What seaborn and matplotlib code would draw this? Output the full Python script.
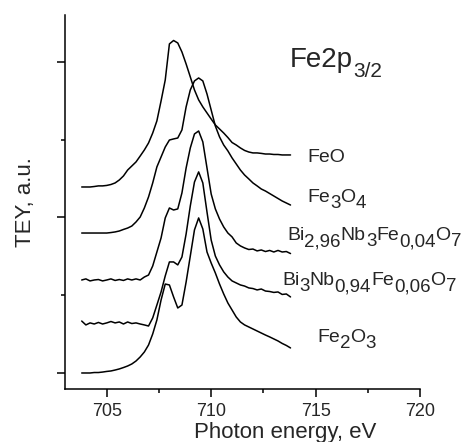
import numpy as np
import pandas as pd
import matplotlib
matplotlib.use("Agg")
import matplotlib.pyplot as plt
import seaborn as sns
from matplotlib.ticker import MultipleLocator, NullFormatter

# photon energy grid, eV
energy = np.round(np.arange(703.8, 713.81, 0.2), 1)

# stacked TEY spectra (a.u., already offset as in the figure)
tey_feo = [1.196, 1.196, 1.196, 1.199, 1.203, 1.203, 1.206, 1.212, 1.222, 1.241,
           1.267, 1.305, 1.331, 1.357, 1.395, 1.434, 1.479, 1.543, 1.621, 1.749,
           1.884, 2.116, 2.138, 2.122, 2.064, 1.987, 1.904, 1.820, 1.756, 1.711,
           1.672, 1.633, 1.595, 1.569, 1.543, 1.514, 1.482, 1.466, 1.447, 1.431,
           1.421, 1.415, 1.415, 1.412, 1.408, 1.408, 1.405, 1.405, 1.402, 1.402,
           1.402]
tey_fe3o4 = [0.900, 0.900, 0.900, 0.900, 0.900, 0.900, 0.900, 0.903, 0.907, 0.913,
             0.923, 0.932, 0.945, 0.971, 1.003, 1.061, 1.132, 1.222, 1.325, 1.389,
             1.453, 1.498, 1.505, 1.511, 1.563, 1.711, 1.820, 1.878, 1.897, 1.878,
             1.794, 1.691, 1.588, 1.518, 1.466, 1.428, 1.383, 1.344, 1.305, 1.273,
             1.248, 1.222, 1.203, 1.183, 1.170, 1.154, 1.138, 1.122, 1.106, 1.093,
             1.080]
tey_bi296 = [0.598, 0.605, 0.592, 0.598, 0.601, 0.592, 0.598, 0.605, 0.595, 0.601,
             0.595, 0.605, 0.598, 0.605, 0.598, 0.617, 0.630, 0.688, 0.778, 0.868,
             0.997, 1.061, 1.048, 1.055, 1.158, 1.318, 1.447, 1.537, 1.556, 1.486,
             1.318, 1.151, 1.055, 0.990, 0.939, 0.900, 0.875, 0.836, 0.817, 0.804,
             0.794, 0.797, 0.785, 0.791, 0.781, 0.788, 0.778, 0.788, 0.778, 0.781,
             0.768]
tey_bi3nb = [0.334, 0.309, 0.322, 0.315, 0.325, 0.315, 0.322, 0.331, 0.322, 0.328,
             0.315, 0.328, 0.318, 0.322, 0.315, 0.309, 0.302, 0.354, 0.437, 0.521,
             0.624, 0.714, 0.714, 0.695, 0.746, 0.894, 1.074, 1.228, 1.293, 1.222,
             1.035, 0.855, 0.752, 0.695, 0.650, 0.617, 0.592, 0.579, 0.566, 0.559,
             0.547, 0.543, 0.534, 0.540, 0.527, 0.524, 0.518, 0.521, 0.505, 0.508,
             0.489]
tey_fe2o3 = [0.000, 0.000, 0.000, 0.003, 0.003, 0.006, 0.010, 0.013, 0.019, 0.026,
             0.035, 0.045, 0.058, 0.077, 0.103, 0.135, 0.180, 0.251, 0.341, 0.469,
             0.572, 0.566, 0.489, 0.418, 0.437, 0.585, 0.752, 0.920, 0.997, 0.926,
             0.778, 0.707, 0.643, 0.572, 0.508, 0.450, 0.405, 0.360, 0.328, 0.309,
             0.296, 0.283, 0.270, 0.257, 0.244, 0.232, 0.219, 0.206, 0.190, 0.177,
             0.161]

samples = ["FeO", "Fe3O4", "Bi2.96Nb3Fe0.04O7", "Bi3Nb0.94Fe0.06O7", "Fe2O3"]
# label pieces: (text, is_subscript)
label_pieces = [
    [("FeO", False)],
    [("Fe", False), ("3", True), ("O", False), ("4", True)],
    [("Bi", False), ("2,96", True), ("Nb", False), ("3", True),
     ("Fe", False), ("0,04", True), ("O", False), ("7", True)],
    [("Bi", False), ("3", True), ("Nb", False), ("0,94", True),
     ("Fe", False), ("0,06", True), ("O", False), ("7", True)],
    [("Fe", False), ("2", True), ("O", False), ("3", True)],
]
# where each label sits (eV, a.u.)
label_x = [714.6, 714.6, 713.63, 713.39, 715.07]
label_y = [1.357, 1.100, 0.855, 0.566, 0.199]


def chem_text(ax, x, y, pieces, size, sub_size, drop):
    """Write a formula piece by piece so the subscripts keep their own size."""
    first = ax.text(x, y, pieces[0][0], fontsize=size, ha="left", va="baseline")
    prev = first
    for txt, sub in pieces[1:]:
        prev = ax.annotate(txt, xy=(1, 0), xycoords=(prev, first),
                           xytext=(0, -drop if sub else 0), textcoords="offset points",
                           fontsize=sub_size if sub else size, ha="left", va="bottom")
    return first


df = pd.concat([
    pd.DataFrame({"energy": energy, "tey": vals, "sample": name})
    for name, vals in zip(samples, [tey_feo, tey_fe3o4, tey_bi296, tey_bi3nb, tey_fe2o3])
])

sns.set_style("ticks")
plt.rcParams['font.family'] = ['Liberation Sans', 'DejaVu Sans']

fig = plt.figure(figsize=(4.69, 4.42), dpi=100)
ax = fig.add_axes([0.1386, 0.1199, 0.7569, 0.8462])

sns.lineplot(data=df, x="energy", y="tey", units="sample", estimator=None,
             color="black", linewidth=1.1, ax=ax, legend=False)

ax.set_xlim(703, 720)
ax.set_ylim(-0.103, 2.302)
ax.xaxis.set_major_locator(MultipleLocator(5))
ax.xaxis.set_minor_locator(MultipleLocator(2.5))
ax.yaxis.set_major_locator(MultipleLocator(1))
ax.yaxis.set_minor_locator(MultipleLocator(0.5))
ax.yaxis.set_major_formatter(NullFormatter())
ax.set_xlabel("")
ax.set_ylabel("")
sns.despine(ax=ax)
for side in ["left", "bottom"]:
    ax.spines[side].set_color("black")
    ax.spines[side].set_linewidth(1.1)
ax.tick_params(which="major", direction="out", length=5.8, width=1.1,
               color="black", labelsize=13, pad=4)
ax.tick_params(which="minor", direction="out", length=3, width=1.1, color="black")

for pieces, lx, ly in zip(label_pieces, label_x, label_y):
    chem_text(ax, lx, ly, pieces, size=14, sub_size=13.5, drop=4.5)
chem_text(ax, 713.78, 1.968, [("Fe2p", False), ("3/2", True)], size=20, sub_size=15, drop=6)

fig.text(285 / 469, 0.009, "Photon energy, eV", fontsize=16, ha="center", va="baseline")
fig.text(25 / 469, 0.543, "TEY, a.u.", fontsize=16, rotation=90, ha="center", va="center")

fig.savefig("out.png", dpi=100)
